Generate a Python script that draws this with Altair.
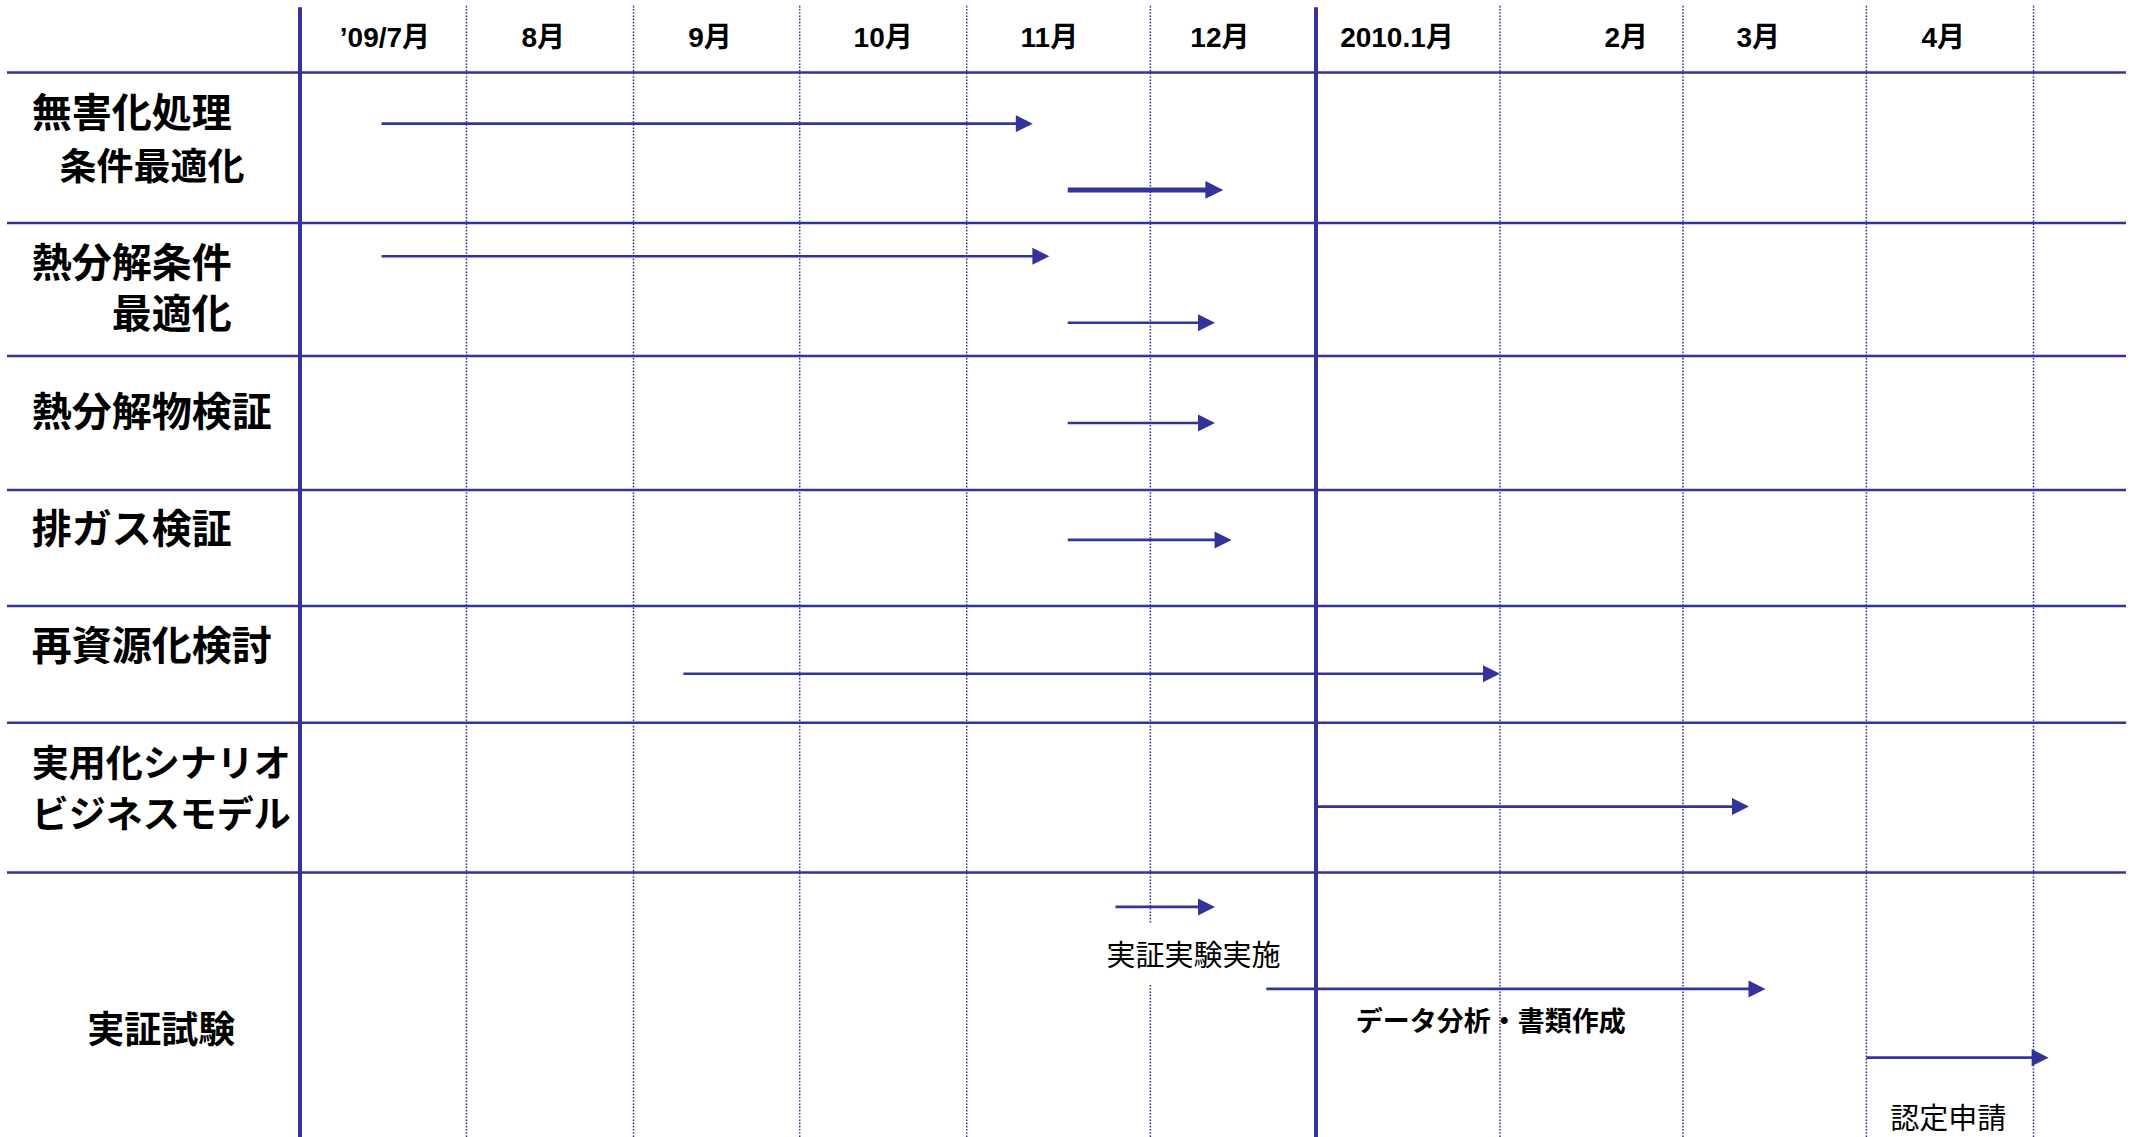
import altair as alt
import pandas as pd

# ---------------- data ----------------
# month columns: 0 = '09/7, 1 = 8月, ... 6 = 2010/1, ... 9 = 4月, 10 = start of 5月
month_labels = ["’09/7月", "8月", "9月", "10月", "11月", "12月", "2010.1月", "2月", "3月", "4月"]
month_label_pos = [0.51, 1.46, 2.46, 3.50, 4.45, 5.42, 6.44, 7.69, 8.41, 9.46]

solid_boundaries = [0, 6]
dotted_boundaries = [1, 2, 3, 4, 5, 7, 8, 9, 10]
row_boundaries = [0, 1, 2, 3, 4, 5, 6]

# leading (ideographic / en) spaces indent the continuation lines, as in the original
WJ = "\u2060"  # word joiner keeps the leading spaces from being trimmed
task_lines = ["無害化処理", WJ + "\u2002\u2005条件最適化", "熱分解条件", WJ + "\u3000\u3000最適化",
              "熱分解物検証", "排ガス検証", "再資源化検討",
              "実用化シナリオ", "ビジネスモデル", WJ + "\u3000\u2002実証試験"]
task_line_row = [0.26, 0.62, 1.29, 1.68, 2.41, 3.33, 4.33, 5.27, 5.61, 6.59]

arrow_row = [0.34, 0.78, 1.25, 1.75, 2.50, 3.43, 4.58, 5.56, 6.13, 6.44, 6.70]
arrow_start = [0.49, 4.55, 0.49, 4.55, 4.55, 4.55, 2.30, 6.00, 4.81, 5.70, 9.00]
arrow_end = [4.36, 5.44, 4.45, 5.39, 5.39, 5.49, 7.00, 8.36, 5.39, 8.45, 10.09]
arrow_emphasis = [0, 1, 0, 0, 0, 0, 0, 0, 0, 0, 0]

note_text = ["実証実験実施", "データ分析・書類作成", "認定申請"]
note_x = [5.26, 6.95, 9.49]
note_row = [6.31, 6.56, 6.925]
note_bold = [0, 1, 0]

# ---------------- scales ----------------
BLUE = "#333399"
x_scale = alt.Scale(
    domain=[-1.8, 0, 1, 2, 3, 4, 5, 6, 7, 8, 9, 10, 10.55],
    range=[0, 300, 466.5, 633.5, 799.7, 966.7, 1150.4, 1316, 1500, 1683, 1866.4, 2033.5, 2126],
    nice=False, zero=False,
)
y_scale = alt.Scale(
    domain=[-1, 0, 1, 2, 3, 4, 5, 6, 7],
    range=[0, 72.5, 223, 356, 490, 606, 722.7, 872.5, 1137],
    nice=False, zero=False,
)

hdf = pd.DataFrame({"r": row_boundaries})
sdf = pd.DataFrame({"m": solid_boundaries})
ddf = pd.DataFrame({"m": dotted_boundaries})
mdf = pd.DataFrame({"label": month_labels, "pos": month_label_pos})
tdf = pd.DataFrame({"text": task_lines, "row": task_line_row})
adf = pd.DataFrame({"row": arrow_row, "start": arrow_start, "end": arrow_end, "emph": arrow_emphasis})
ndf = pd.DataFrame({"text": note_text, "x": note_x, "row": note_row, "bold": note_bold})

hlines = alt.Chart(hdf).mark_rule(color=BLUE, strokeWidth=2.6).encode(
    x=alt.X(datum=-1.758, scale=x_scale, axis=None),
    x2=alt.X2(datum=10.55),
    y=alt.Y("r:Q", scale=y_scale, axis=None),
)

vsolid = alt.Chart(sdf).mark_rule(color=BLUE, strokeWidth=4).encode(
    x=alt.X("m:Q", scale=x_scale, axis=None),
    y=alt.Y(datum=-0.9, scale=y_scale, axis=None),
    y2=alt.Y2(datum=7),
)

vdot = alt.Chart(ddf).mark_rule(color=BLUE, strokeWidth=1.5, strokeDash=[1.6, 1.6]).encode(
    x=alt.X("m:Q", scale=x_scale, axis=None),
    y=alt.Y(datum=-0.92, scale=y_scale, axis=None),
    y2=alt.Y2(datum=7),
)

header = alt.Chart(mdf).mark_text(
    font="Liberation Sans, Noto Sans CJK JP", fontWeight="bold", fontSize=28,
    align="center", baseline="middle", color="black", dy=3,
).encode(
    x=alt.X("pos:Q", scale=x_scale, axis=None),
    y=alt.Y(datum=-0.5, scale=y_scale, axis=None),
    text="label:N",
)

tasks = alt.Chart(tdf).transform_calculate(
    fs="length(datum.text) > 6 ? 37 : 40"
).mark_text(
    font="Noto Sans CJK JP", fontWeight="bold", align="left", baseline="middle", color="black", dy=3,
).encode(
    x=alt.X(datum=-1.61, scale=x_scale, axis=None),
    y=alt.Y("row:Q", scale=y_scale, axis=None),
    text="text:N",
    size=alt.Size("fs:Q", scale=None, legend=None),
)

shafts = alt.Chart(adf).transform_calculate(
    shaft_end="datum.end - 0.06"
).mark_rule(color=BLUE).encode(
    x=alt.X("start:Q", scale=x_scale, axis=None),
    x2="shaft_end:Q",
    y=alt.Y("row:Q", scale=y_scale, axis=None),
    strokeWidth=alt.StrokeWidth("emph:Q", scale=alt.Scale(domain=[0, 1], range=[2.6, 5]), legend=None),
)

heads = alt.Chart(adf).mark_point(
    shape="M0,0L-2,-1L-2,1Z", filled=True, color=BLUE, opacity=1, strokeWidth=0,
).encode(
    x=alt.X("end:Q", scale=x_scale, axis=None),
    y=alt.Y("row:Q", scale=y_scale, axis=None),
    size=alt.Size("emph:Q", scale=alt.Scale(domain=[0, 1], range=[289, 320]), legend=None),
)

note_bg = alt.Chart(ndf).transform_filter("datum.bold == 0 && datum.row < 6.5").mark_point(
    shape="M-1,-0.32H1V0.32H-1Z", filled=True, color="white", opacity=1, strokeWidth=0, size=36100,
).encode(
    x=alt.X("x:Q", scale=x_scale, axis=None),
    y=alt.Y("row:Q", scale=y_scale, axis=None),
)

notes_regular = alt.Chart(ndf).transform_filter("datum.bold == 0").mark_text(
    font="Noto Sans CJK JP", fontSize=29, align="center", baseline="middle", color="black", dy=3,
).encode(
    x=alt.X("x:Q", scale=x_scale, axis=None),
    y=alt.Y("row:Q", scale=y_scale, axis=None),
    text="text:N",
)

notes_bold = alt.Chart(ndf).transform_filter("datum.bold == 1").mark_text(
    font="Noto Sans CJK JP", fontWeight="bold", fontSize=27, align="center", baseline="middle", color="black", dy=2,
).encode(
    x=alt.X("x:Q", scale=x_scale, axis=None),
    y=alt.Y("row:Q", scale=y_scale, axis=None),
    text="text:N",
)

chart = alt.layer(
    vdot, note_bg, hlines, vsolid, shafts, heads, header, tasks, notes_regular, notes_bold
).properties(
    width=2134, height=1137, padding=0, autosize="none", background="white",
).configure_view(stroke=None)

chart.save("out.html", embed_options={"renderer": "svg", "actions": False})
